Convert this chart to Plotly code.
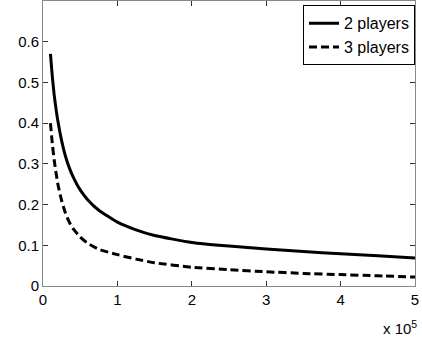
import plotly.graph_objects as go

x_vals = [0.1, 0.125, 0.15, 0.175, 0.2, 0.25, 0.3, 0.35, 0.4, 0.5, 0.6, 0.75, 1.0, 1.25, 1.5, 2.0, 2.5, 3.0, 3.5, 4.0, 4.5, 5.0]
two_players = [0.57, 0.515, 0.47, 0.435, 0.405, 0.357, 0.32, 0.292, 0.27, 0.236, 0.212, 0.186, 0.157, 0.138, 0.124, 0.107, 0.098, 0.091, 0.085, 0.079, 0.074, 0.069]
three_players = [0.40, 0.35, 0.31, 0.278, 0.25, 0.21, 0.18, 0.158, 0.142, 0.12, 0.105, 0.09, 0.077, 0.066, 0.057, 0.046, 0.040, 0.035, 0.031, 0.028, 0.025, 0.022]
x_ticks = [0, 1, 2, 3, 4, 5]
y_ticks = [0, 0.1, 0.2, 0.3, 0.4, 0.5, 0.6]
y_tick_labels = ["0", "0.1", "0.2", "0.3", "0.4", "0.5", "0.6"]

FONT = "Liberation Sans, Arial, sans-serif"

fig = go.Figure()
fig.add_trace(go.Scatter(x=x_vals, y=two_players, mode="lines", name="2 players",
                         line=dict(color="black", width=3, shape="spline", smoothing=0.5)))
fig.add_trace(go.Scatter(x=x_vals, y=three_players, mode="lines", name="3 players",
                         line=dict(color="black", width=3, dash="8px,4px", shape="spline", smoothing=0.5)))

axis_common = dict(showgrid=False, zeroline=False, showline=True, linecolor="#888888", linewidth=1,
                   mirror="ticks", ticks="inside", ticklen=5, tickcolor="#333333", tickwidth=1,
                   tickfont=dict(family=FONT, size=15, color="black"))

fig.update_xaxes(range=[0, 5], tickvals=x_ticks, ticktext=[str(v) for v in x_ticks], **axis_common)
fig.update_yaxes(range=[0, 0.7], tickvals=y_ticks, ticktext=y_tick_labels, **axis_common)

fig.add_annotation(x=1, y=0, xref="paper", yref="paper", xanchor="right", yanchor="top",
                   yshift=-30, xshift=4, showarrow=False,
                   text="x 10<sup>5</sup>", font=dict(family=FONT, size=15, color="black"))

fig.update_layout(
    width=422, height=343,
    margin=dict(l=43, r=7, t=1, b=57),
    paper_bgcolor="white", plot_bgcolor="white",
    showlegend=True,
    legend=dict(x=1, y=0.985, xanchor="right", yanchor="top", bgcolor="white",
                bordercolor="black", borderwidth=1,
                font=dict(family=FONT, size=16, color="black"),
                tracegroupgap=0, itemwidth=30),
)

fig.write_html("out.html", config={"displayModeBar": False},
               post_script="document.body.style.margin='0';document.body.style.padding='0';")
